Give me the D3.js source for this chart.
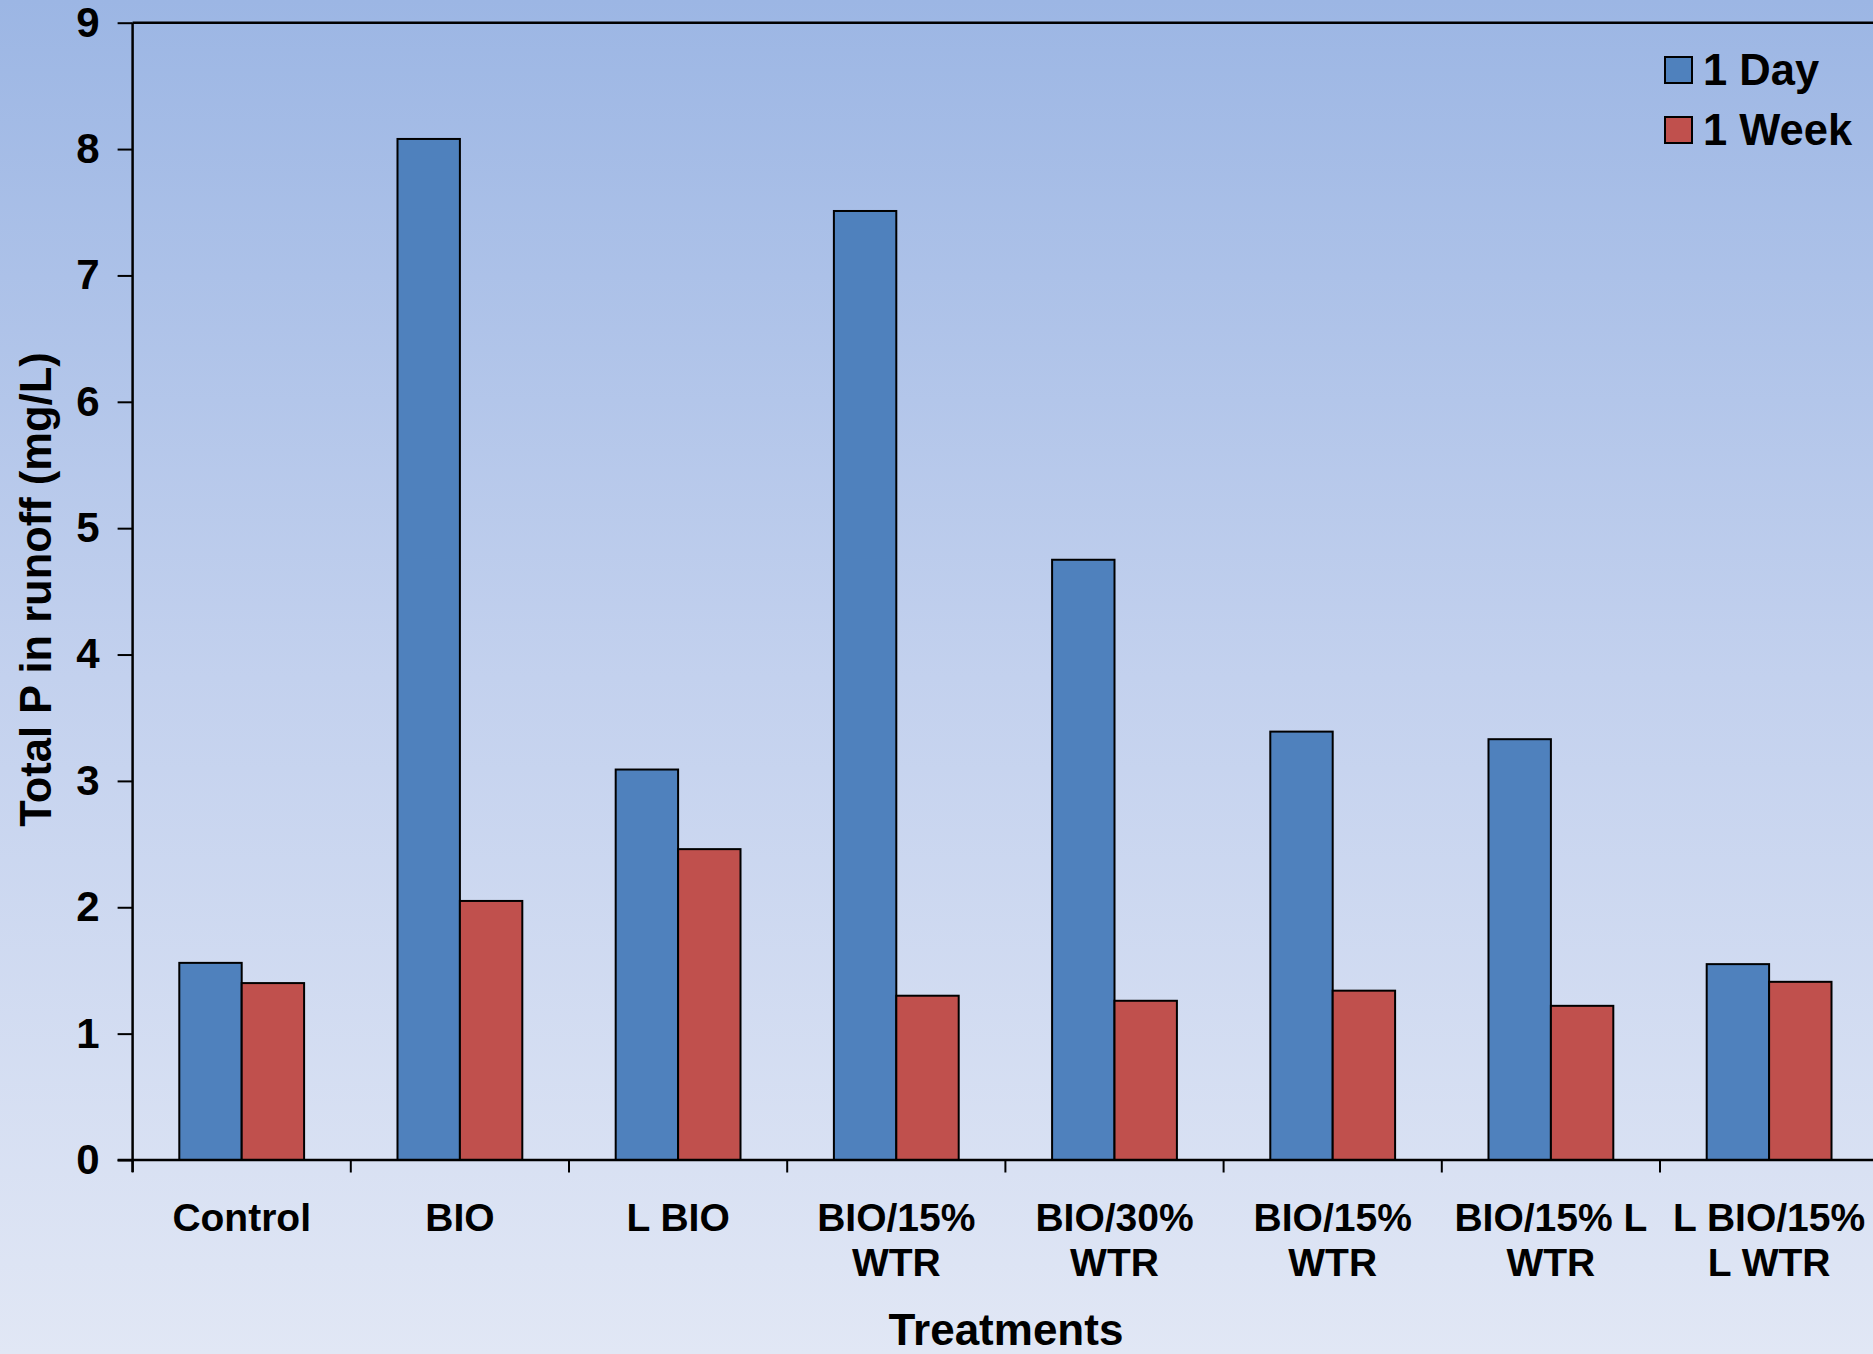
<!DOCTYPE html>
<html>
<head>
<meta charset="utf-8">
<script src="https://cdn.jsdelivr.net/npm/d3@7/dist/d3.min.js"></script>
<style>
  html, body { margin: 0; padding: 0; overflow: hidden; }
  svg { display: block; }
  text { font-family: "Liberation Sans", Arial, sans-serif; font-weight: bold; fill: #000; }
</style>
</head>
<body>
<svg id="chart" width="1873" height="1354"></svg>
<script>
// Treatments and total P in runoff (mg/L)
const categories = [
  ["Control"],
  ["BIO"],
  ["L BIO"],
  ["BIO/15%", "WTR"],
  ["BIO/30%", "WTR"],
  ["BIO/15%", "WTR"],
  ["BIO/15% L", "WTR"],
  ["L BIO/15%", "L WTR"]
];
const seriesNames = ["1 Day", "1 Week"];
const oneDay  = [1.56, 8.08, 3.09, 7.51, 4.75, 3.39, 3.33, 1.55];
const oneWeek = [1.40, 2.05, 2.46, 1.30, 1.26, 1.34, 1.22, 1.41];
const yTicks  = [0, 1, 2, 3, 4, 5, 6, 7, 8, 9];

const seriesColors = ["#4f81bd", "#c0504d"];
const W = 1873, H = 1354;
const svg = d3.select("#chart");

// page background gradient
const defs = svg.append("defs");
const grad = defs.append("linearGradient")
  .attr("id", "bg").attr("x1", 0).attr("y1", 0).attr("x2", 0).attr("y2", 1);
grad.append("stop").attr("offset", "0%").attr("stop-color", "#9cb6e4");
grad.append("stop").attr("offset", "50%").attr("stop-color", "#c3d1ee");
grad.append("stop").attr("offset", "100%").attr("stop-color", "#e1e7f5");
svg.append("rect").attr("width", W).attr("height", H).attr("fill", "url(#bg)");

const plotLeft = 132.6, plotTop = 22.7, plotBottom = 1160;
const bandW = 218.2;
const idx = d3.range(categories.length);

const x0 = d3.scaleBand().domain(idx).range([plotLeft, plotLeft + bandW * categories.length]).padding(0);
const x1 = d3.scaleBand().domain(seriesNames)
  .range([x0.bandwidth() * 0.214, x0.bandwidth() * 0.786]).padding(0);
const y = d3.scaleLinear().domain([0, 9]).range([plotBottom, plotTop]);

const rows = idx.map(i => ({ i, values: [oneDay[i], oneWeek[i]] }));

// bars
const groups = svg.append("g").selectAll("g").data(rows).join("g")
  .attr("transform", d => `translate(${x0(d.i)},0)`);
groups.selectAll("rect")
  .data(d => d.values.map((v, k) => ({ k, v })))
  .join("rect")
  .attr("x", d => x1(seriesNames[d.k]))
  .attr("width", x1.bandwidth())
  .attr("y", d => y(d.v))
  .attr("height", d => y(0) - y(d.v))
  .attr("fill", d => seriesColors[d.k])
  .attr("stroke", "#000")
  .attr("stroke-width", 2);

// top frame line
svg.append("line")
  .attr("x1", plotLeft).attr("x2", W).attr("y1", y(9)).attr("y2", y(9))
  .attr("stroke", "#000").attr("stroke-width", 2.5);

// y axis
const yAxis = svg.append("g")
  .attr("transform", `translate(${plotLeft},0)`)
  .call(d3.axisLeft(y).tickValues(yTicks).tickFormat(d3.format("d")).tickSize(15).tickPadding(18));
yAxis.select(".domain").attr("stroke-width", 2.5).attr("d", `M0,${y(9)}V${plotBottom + 12}`);
yAxis.selectAll(".tick line").attr("stroke-width", 2);
yAxis.selectAll(".tick text")
  .attr("font-size", 42).attr("font-family", "Liberation Sans, Arial, sans-serif")
  .attr("font-weight", "bold").attr("fill", "#000");

// x axis: ticks at category boundaries
const xAxisG = svg.append("g").attr("transform", `translate(0,${plotBottom})`);
xAxisG.append("line")
  .attr("x1", plotLeft - 15).attr("x2", W).attr("y1", 0).attr("y2", 0)
  .attr("stroke", "#000").attr("stroke-width", 2.5);
xAxisG.selectAll("line.tk").data(idx.concat([categories.length])).join("line")
  .attr("class", "tk")
  .attr("x1", i => plotLeft + i * x0.step()).attr("x2", i => plotLeft + i * x0.step())
  .attr("y1", 0).attr("y2", 12.5)
  .attr("stroke", "#000").attr("stroke-width", 2);

// category labels
const labels = svg.append("g").selectAll("text").data(rows).join("text")
  .attr("x", d => x0(d.i) + x0.bandwidth() / 2)
  .attr("y", 1231)
  .attr("text-anchor", "middle")
  .attr("font-size", 39);
labels.selectAll("tspan").data(d => categories[d.i]).join("tspan")
  .attr("x", function () { return d3.select(this.parentNode).attr("x"); })
  .attr("dy", (d, k) => k === 0 ? 0 : 45)
  .text(d => d);

// axis titles
svg.append("text")
  .attr("transform", `translate(51,${(297 + 690) / 2 * 1.1945}) rotate(-90)`)
  .attr("text-anchor", "middle")
  .attr("font-size", 43.5)
  .text("Total P in runoff (mg/L)");

svg.append("text")
  .attr("x", 1006).attr("y", 1345)
  .attr("text-anchor", "middle")
  .attr("font-size", 44)
  .text("Treatments");

// legend
const legend = svg.append("g").attr("transform", "translate(1665,57)");
const li = legend.selectAll("g").data(seriesNames).join("g")
  .attr("transform", (d, k) => `translate(0,${k * 60})`);
li.append("rect")
  .attr("width", 27).attr("height", 26)
  .attr("fill", (d, k) => seriesColors[k])
  .attr("stroke", "#000").attr("stroke-width", 2);
li.append("text")
  .attr("x", 38).attr("y", 28)
  .attr("font-size", 43.5)
  .text(d => d);
</script>
</body>
</html>
